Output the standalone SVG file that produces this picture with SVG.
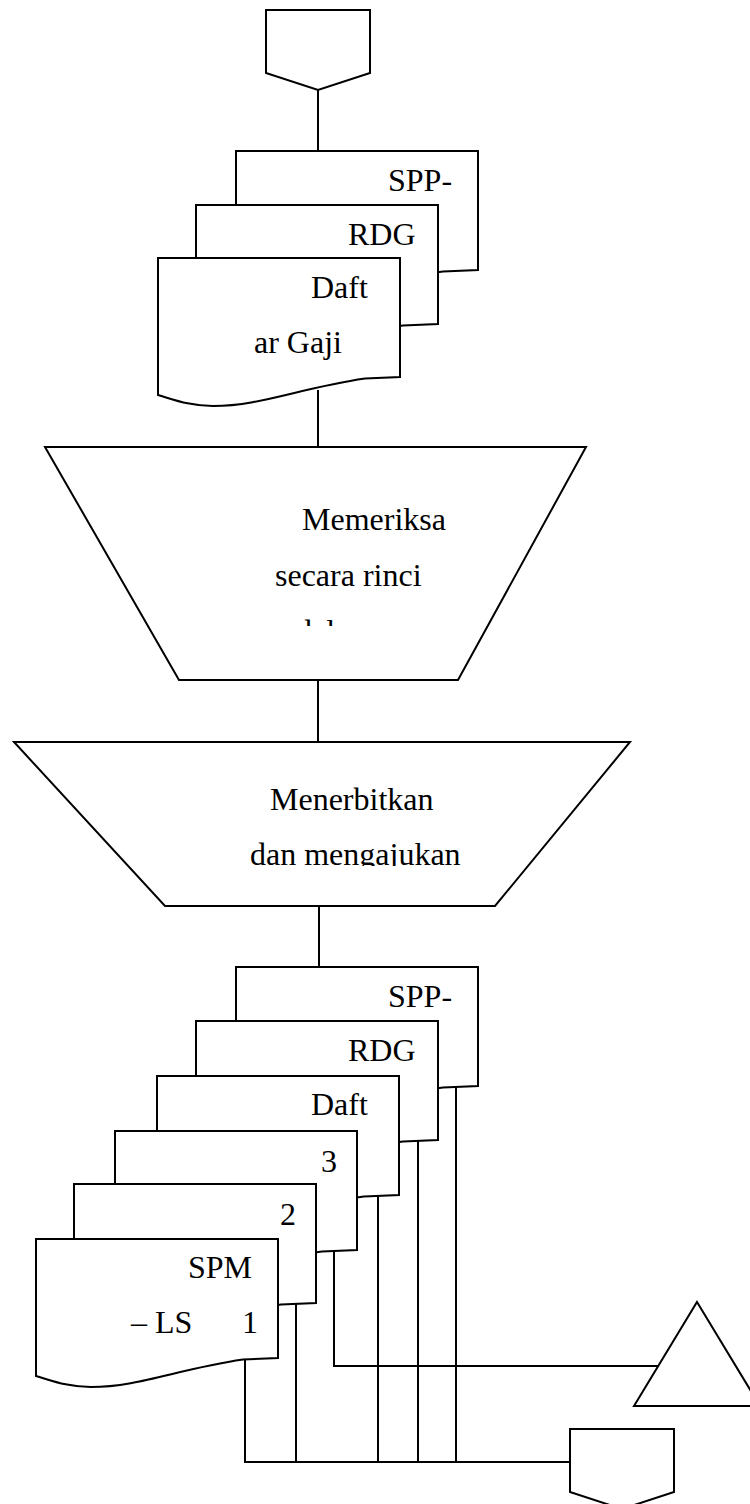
<svg xmlns="http://www.w3.org/2000/svg" width="750" height="1504" viewBox="0 0 750 1504">
  <style>
    .shape { fill: #ffffff; stroke: #000000; stroke-width: 2; stroke-linejoin: miter; }
    .line { fill: none; stroke: #000000; stroke-width: 2; }
    .label { font-family: "Liberation Serif", "Times New Roman", serif; font-size: 32px; fill: #000000; }
  </style>
  <defs>
    <!-- flowchart document shape: 242 wide, wavy bottom edge -->
    <path id="doc" d="M0,0 H242 V119 L207,120.5 C142,130 102,148 55,148 C32,148 17,142 0,137 Z"/>
    <!-- off-page connector -->
    <path id="offpage" d="M0,0 H104 V63 L52,80 L0,63 Z"/>
    <clipPath id="clip-check"><rect x="40" y="447" width="560" height="179"/></clipPath>
    <clipPath id="clip-issue"><rect x="10" y="742" width="630" height="124"/></clipPath>
  </defs>

  <rect width="750" height="1504" fill="#ffffff"/>

  <g id="connectors">
    <line class="line" x1="318" y1="90" x2="318" y2="152"/>
    <line class="line" x1="318" y1="390" x2="318" y2="447"/>
    <line class="line" x1="318" y1="680" x2="318" y2="742"/>
    <line class="line" x1="319" y1="906" x2="319" y2="967"/>
    <!-- copy 3 goes to the archive -->
    <polyline class="line" points="334,1251 334,1366 659,1366"/>
    <!-- remaining copies go to the off-page connector -->
    <line class="line" x1="456" y1="1087" x2="456" y2="1462"/>
    <line class="line" x1="418" y1="1141" x2="418" y2="1462"/>
    <line class="line" x1="378" y1="1196" x2="378" y2="1462"/>
    <line class="line" x1="296" y1="1304" x2="296" y2="1462"/>
    <polyline class="line" points="245,1359 245,1462 570,1462"/>
  </g>

  <g id="start-connector">
    <use href="#offpage" class="shape" transform="translate(266,10)"/>
  </g>

  <g id="input-docs">
    <use href="#doc" class="shape" transform="translate(236,151)"/>
    <text class="label" x="388" y="191">SPP-</text>
    <use href="#doc" class="shape" transform="translate(196,205)"/>
    <text class="label" x="348" y="245">RDG</text>
    <use href="#doc" class="shape" transform="translate(158,258)"/>
    <text class="label" x="311" y="298">Daft</text>
    <text class="label" x="254" y="353">ar Gaji</text>
  </g>

  <g id="check-step">
    <polygon class="shape" points="45,447 586,447 458,680 179,680"/>
    <g clip-path="url(#clip-check)">
      <text class="label" x="302" y="530">Memeriksa</text>
      <text class="label" x="275" y="586">secara rinci</text>
      <text class="label" x="296" y="642">dalam</text>
    </g>
  </g>

  <g id="issue-step">
    <polygon class="shape" points="14,742 630,742 495,906 165,906"/>
    <g clip-path="url(#clip-issue)">
      <text class="label" x="270" y="810">Menerbitkan</text>
      <text class="label" x="250" y="865">dan mengajukan</text>
    </g>
  </g>

  <g id="output-docs">
    <use href="#doc" class="shape" transform="translate(236,967)"/>
    <text class="label" x="388" y="1007">SPP-</text>
    <use href="#doc" class="shape" transform="translate(196,1021)"/>
    <text class="label" x="348" y="1061">RDG</text>
    <use href="#doc" class="shape" transform="translate(157,1076)"/>
    <text class="label" x="311" y="1115">Daft</text>
    <use href="#doc" class="shape" transform="translate(115,1131)"/>
    <text class="label" x="321" y="1172">3</text>
    <use href="#doc" class="shape" transform="translate(74,1184)"/>
    <text class="label" x="280" y="1225">2</text>
    <use href="#doc" class="shape" transform="translate(36,1239)"/>
    <text class="label" x="188" y="1278">SPM</text>
    <text class="label" x="131" y="1333">– LS</text>
    <text class="label" x="242" y="1333">1</text>
  </g>

  <g id="archive">
    <polygon class="shape" points="697,1302 760,1406 634,1406"/>
  </g>

  <g id="end-connector">
    <use href="#offpage" class="shape" transform="translate(570,1429)"/>
  </g>
</svg>
